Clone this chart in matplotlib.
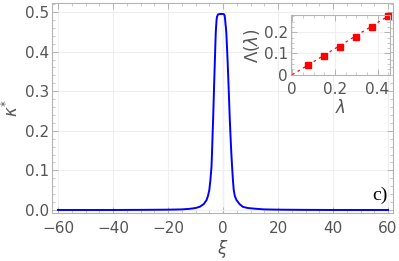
import numpy as np
import matplotlib
matplotlib.use('Agg')
import matplotlib.pyplot as plt
from matplotlib.ticker import MultipleLocator

# main curve
xi = [-60, -40, -30, -20, -15, -12, -10, -8.5, -7, -6, -5.5, -5, -4.6, -4.2,
      -4.0, -3.8, -3.6, -3.4, -3.2, -3.0, -2.8, -2.65, -2.5, -2.35, -2.2,
      -1.8, -1, -0.5, 0, 0.4, 0.6, 0.75, 0.9, 1.05, 1.2, 1.45, 1.7, 1.95,
      2.2, 2.45, 2.7, 3.0, 3.3, 3.6, 3.9, 4.3, 4.9, 6, 7.2, 9, 12, 15, 20,
      30, 40, 60]
kappa = [0.0, 0.0, 0.0003, 0.0008, 0.0015, 0.003, 0.005, 0.008, 0.015, 0.025,
         0.035, 0.05, 0.075, 0.109, 0.145, 0.19, 0.23, 0.278, 0.325, 0.37,
         0.415, 0.447, 0.465, 0.48, 0.488, 0.494, 0.495, 0.495, 0.495, 0.494,
         0.49, 0.482, 0.47, 0.46, 0.447, 0.41, 0.37, 0.325, 0.278, 0.23,
         0.19, 0.145, 0.109, 0.075, 0.05, 0.035, 0.025, 0.015, 0.008, 0.005,
         0.003, 0.0015, 0.0008, 0.0003, 0.0, 0.0]

# inset points
lam = [0.075, 0.15, 0.225, 0.3, 0.375, 0.45]
Lam = [0.047, 0.087, 0.131, 0.176, 0.225, 0.276]
fit_lam = [0.0, 0.45]
fit_Lam = [0.0, 0.276]

gray = '#555555'
frame = '#b4b4b4'
grid_c = '#efefef'

def style(ax, fs):
    for s in ax.spines.values():
        s.set_color(frame)
        s.set_linewidth(0.8)
    ax.tick_params(which='both', direction='in', top=True, right=True,
                   color=frame, labelcolor=gray, labelsize=fs)
    ax.tick_params(which='major', length=4, width=0.7)
    ax.tick_params(which='minor', length=2, width=0.5)
    ax.grid(True, color=grid_c, lw=0.8)
    ax.set_axisbelow(True)

fig = plt.figure(figsize=(3.99, 2.61), dpi=100)
ax = fig.add_axes([0.1303, 0.1839, 0.8546, 0.8046])
style(ax, 11)
ax.tick_params(axis='x', which='both', pad=6)
ax.tick_params(axis='y', which='both', pad=2)
ax.axvline(0, color='#dddddd', lw=0.9, zorder=0)
ax.plot(xi, kappa, color='#0000ff', lw=1.4)
ax.set_xlim(-62.2, 61.8)
ax.set_ylim(-0.0076, 0.5227)
ax.xaxis.set_major_locator(MultipleLocator(20))
ax.xaxis.set_minor_locator(MultipleLocator(5))
ax.yaxis.set_minor_locator(MultipleLocator(0.02))
ax.set_yticks([0, 0.1, 0.2, 0.3, 0.4, 0.5])
ax.set_yticklabels(['0.0', '0.1', '0.2', '0.3', '0.4', '0.5'])
ax.set_xlabel(r'$\xi$', color=gray, fontsize=12, labelpad=1)
ax.set_ylabel(r'$\kappa^{*}$', color=gray, fontsize=12, labelpad=2)
ax.text(0.985, 0.045, 'c)', transform=ax.transAxes, ha='right', va='bottom',
        fontsize=14, family='Liberation Serif', color='black')

ins = fig.add_axes([0.7286, 0.7115, 0.2496, 0.2299])
style(ins, 11)
ins.plot(fit_lam, fit_Lam, color='red', lw=0.9, ls=(0, (2, 3)))
ins.plot(lam, Lam, 's', color='red', ms=4, clip_on=False)
ins.set_xlim(-0.0075, 0.46)
ins.set_ylim(-0.003, 0.28)
ins.set_xticks([0, 0.2, 0.4])
ins.set_xticklabels(['0', '0.2', '0.4'])
ins.set_yticks([0, 0.1, 0.2])
ins.set_yticklabels(['0', '0.1', '0.2'])
ins.xaxis.set_minor_locator(MultipleLocator(0.05))
ins.yaxis.set_minor_locator(MultipleLocator(0.025))
ins.tick_params(axis='x', which='both', pad=5)
ins.tick_params(axis='y', which='both', pad=2)
ins.set_xlabel(r'$\lambda$', color=gray, fontsize=12, labelpad=1)
ins.set_ylabel(r'$\Lambda(\lambda)$', color=gray, fontsize=12, labelpad=1)

fig.savefig('out.png', dpi=100)
